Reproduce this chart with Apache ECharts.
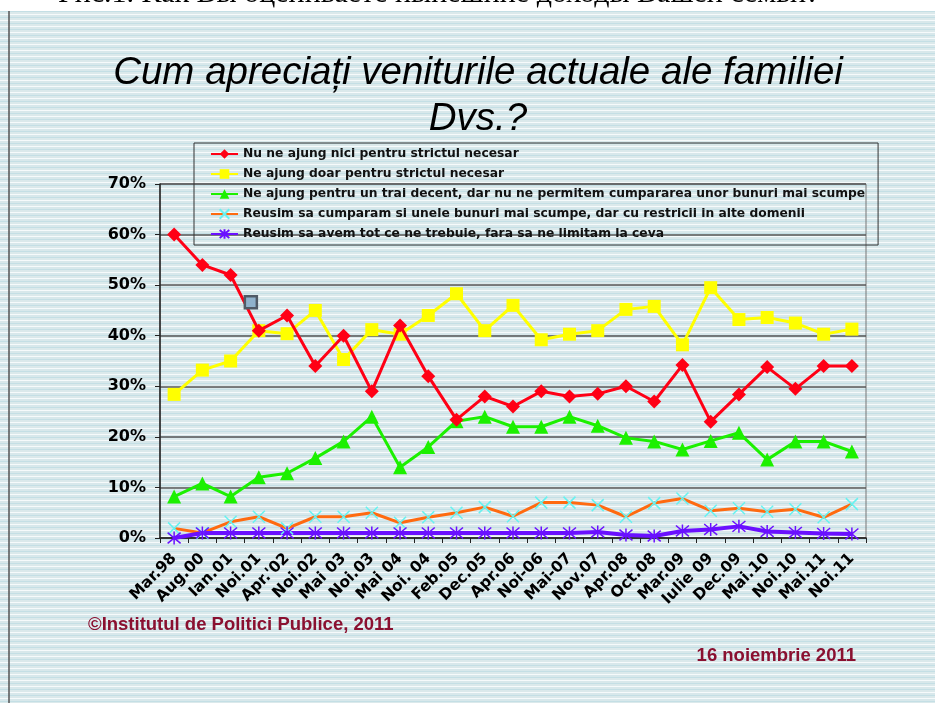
<!DOCTYPE html>
<html>
<head>
<meta charset="utf-8">
<script src="https://cdn.jsdelivr.net/npm/echarts@6/dist/echarts.min.js"></script>
<style>
  html, body { margin: 0; padding: 0; background: #fff; }
  #chart {
    width: 935px;
    height: 703px;
    background:
      linear-gradient(#fff, #fff) top left / 100% 11px no-repeat,
      repeating-linear-gradient(to bottom,
        #dbe9eb 0px, #dbe9eb 2px,
        #f6fafb 2px, #f6fafb 3px,
        #d8e8eb 3px, #d8e8eb 5px,
        #c4dfe5 5px, #c4dfe5 6px);
  }
</style>
</head>
<body>
<div id="chart"></div>
<script>
// date sondaj
var categories = ['Mar.98', 'Aug.00', 'Ian.01', 'Noi.01', "Apr.'02", 'Noi.02', 'Mai 03', 'Noi.03', 'Mai 04', 'Noi. 04',
  'Feb.05', 'Dec.05', 'Apr.06', 'Noi-06', 'Mai-07', 'Nov.07', 'Apr.08', 'Oct.08', 'Mar.09', 'Iulie 09',
  'Dec.09', 'Mai.10', 'Noi.10', 'Mai.11', 'Noi.11']

var seriesNames = [
  'Nu ne ajung nici pentru strictul necesar',
  'Ne ajung doar pentru strictul necesar',
  'Ne ajung pentru un trai decent, dar nu ne permitem cumpararea unor bunuri mai scumpe',
  'Reusim sa cumparam si unele bunuri mai scumpe, dar cu restricii in alte domenii',
  'Reusim sa avem tot ce ne trebuie, fara sa ne limitam la ceva'
]

var nuAjung = [60, 54, 52, 41, 44, 34, 40, 29, 42, 32, 23.4, 28, 26, 29, 28, 28.5, 30, 27, 34.2, 23, 28.4, 33.8, 29.5, 34, 34]
var doarStrict = [28.4, 33.2, 35, 41, 40.4, 45, 35.3, 41.2, 40.3, 44, 48.3, 41, 46, 39.2, 40.3, 41, 45.2, 45.8, 38.2, 49.5, 43.2, 43.6, 42.5, 40.3, 41.3]
var traiDecent = [8.2, 10.8, 8.2, 12, 12.8, 15.8, 19.1, 24, 14, 18, 23.1, 24, 22, 22, 24, 22.2, 19.8, 19.1, 17.5, 19.2, 20.8, 15.5, 19.1, 19.1, 17.1]
var cuRestrictii = [1.9, 1, 3.2, 4.2, 1.9, 4.2, 4.2, 5, 3, 4.1, 5, 6.1, 4.3, 7, 7, 6.5, 4.2, 6.9, 7.8, 5.4, 5.9, 5.2, 5.7, 4.1, 6.7]
var totCeTrebuie = [0, 1, 1, 1, 1, 1, 1, 1, 1, 1, 1, 1, 1, 1, 1, 1.2, 0.6, 0.4, 1.4, 1.7, 2.3, 1.3, 1.1, 0.9, 0.8]
// patratelul gri ramas pe slide
var greyMarker = [null, null, null, 46.6, null, null, null, null, null, null, null, null, null, null, null, null, null, null, null, null, null, null, null, null, null]

var yTicks = [0, 10, 20, 30, 40, 50, 60, 70]

var chart = echarts.init(document.getElementById('chart'), null, { renderer: 'canvas' })

var crossPath = 'path://M0,0L10,10M10,0L0,10'
var starPath = 'path://M0,0L10,10M10,0L0,10M5,-1L5,11'

chart.setOption({
  backgroundColor: 'transparent',
  animation: false,
  textStyle: { fontFamily: '"DejaVu Sans", Verdana, sans-serif' },
  grid: {
    left: 160,
    right: 69,
    top: 184,
    bottom: 165,
    show: true,
    borderColor: '#777',
    borderWidth: 1,
    backgroundColor: 'transparent'
  },
  legend: {
    data: seriesNames,
    orient: 'vertical',
    left: 194,
    top: 143,
    padding: [4, 13, 4, 16],
    itemGap: 6,
    itemWidth: 27,
    itemHeight: 12,
    borderColor: '#333',
    borderWidth: 1,
    backgroundColor: 'transparent',
    textStyle: {
      fontFamily: '"DejaVu Sans", Verdana, sans-serif',
      fontWeight: 'bold',
      fontSize: 12.3,
      lineHeight: 14,
      color: '#111'
    }
  },
  xAxis: {
    type: 'category',
    data: categories,
    boundaryGap: true,
    axisLine: { lineStyle: { color: '#222', width: 1.5 } },
    axisTick: { show: true, length: 5, lineStyle: { color: '#222' } },
    axisLabel: {
      rotate: 45,
      interval: 0,
      margin: 18,
      color: '#000',
      fontWeight: 'bold',
      fontSize: 15.5,
      fontFamily: '"DejaVu Sans", Verdana, sans-serif'
    },
    splitLine: { show: false }
  },
  yAxis: {
    type: 'value',
    min: yTicks[0],
    max: yTicks[yTicks.length - 1],
    interval: 10,
    axisLine: { show: true, lineStyle: { color: '#222', width: 1.5 } },
    axisTick: { show: true, length: 5, lineStyle: { color: '#222' } },
    axisLabel: {
      formatter: '{value}%',
      margin: 14,
      color: '#000',
      fontWeight: 'bold',
      fontSize: 16,
      fontFamily: '"DejaVu Sans", Verdana, sans-serif'
    },
    splitLine: { show: true, lineStyle: { color: '#555', width: 1.5 } }
  },
  series: [
    {
      name: seriesNames[0],
      type: 'line',
      data: nuAjung,
      symbol: 'diamond',
      symbolSize: 14,
      itemStyle: { color: '#ff0015' },
      lineStyle: { color: '#ff0015', width: 3 },
      z: 5
    },
    {
      name: seriesNames[1],
      type: 'line',
      data: doarStrict,
      symbol: 'rect',
      symbolSize: 13,
      itemStyle: { color: '#ffff00' },
      lineStyle: { color: '#ffff00', width: 3 },
      z: 4
    },
    {
      name: seriesNames[2],
      type: 'line',
      data: traiDecent,
      symbol: 'triangle',
      symbolSize: 14,
      itemStyle: { color: '#1cf000' },
      lineStyle: { color: '#1cf000', width: 3 },
      z: 3
    },
    {
      name: seriesNames[3],
      type: 'line',
      data: cuRestrictii,
      symbol: crossPath,
      symbolSize: 12,
      itemStyle: { color: 'rgba(0,0,0,0)', borderColor: '#66f2f0', borderWidth: 1.5 },
      lineStyle: { color: '#ff6a10', width: 3 },
      z: 2
    },
    {
      name: seriesNames[4],
      type: 'line',
      data: totCeTrebuie,
      symbol: starPath,
      symbolSize: 13,
      itemStyle: { color: 'rgba(0,0,0,0)', borderColor: '#6a10ff', borderWidth: 1.5 },
      lineStyle: { color: '#6a10ff', width: 4 },
      z: 2
    },
    {
      name: 'marker',
      type: 'line',
      data: greyMarker,
      symbol: 'rect',
      symbolSize: 12,
      symbolOffset: [-8, 0],
      showSymbol: true,
      lineStyle: { width: 0 },
      itemStyle: { color: '#8fb2cc', borderColor: '#4f5a66', borderWidth: 2.5 },
      z: 6
    }
  ],
  graphic: [
    {
      type: 'text',
      left: 58,
      top: -21,
      style: {
        text: 'Рис.1. Как Вы оцениваете нынешние доходы Вашей семьи?',
        font: '30px "Liberation Serif", "Times New Roman", serif',
        fill: '#000'
      },
      z: 10
    },
    {
      type: 'line',
      shape: { x1: 9, y1: 11, x2: 9, y2: 703 },
      style: { stroke: '#555', lineWidth: 1.5 }
    },
    {
      type: 'text',
      x: 478,
      y: 73,
      style: {
        text: 'Cum apreciați veniturile actuale ale familiei',
        font: 'italic 38.5px "Liberation Sans", Arial, sans-serif',
        fill: '#000',
        align: 'center',
        verticalAlign: 'middle'
      }
    },
    {
      type: 'text',
      x: 478,
      y: 119,
      style: {
        text: 'Dvs.?',
        font: 'italic 38.5px "Liberation Sans", Arial, sans-serif',
        fill: '#000',
        align: 'center',
        verticalAlign: 'middle'
      }
    },
    {
      type: 'text',
      x: 88,
      y: 625,
      style: {
        text: '©Institutul de Politici Publice, 2011',
        font: 'bold 18.5px "Liberation Sans", Arial, sans-serif',
        fill: '#8a1030',
        align: 'left',
        verticalAlign: 'middle'
      }
    },
    {
      type: 'text',
      x: 856,
      y: 656,
      style: {
        text: '16 noiembrie 2011',
        font: 'bold 18.5px "Liberation Sans", Arial, sans-serif',
        fill: '#8a1030',
        align: 'right',
        verticalAlign: 'middle'
      }
    }
  ]
})
</script>
</body>
</html>
